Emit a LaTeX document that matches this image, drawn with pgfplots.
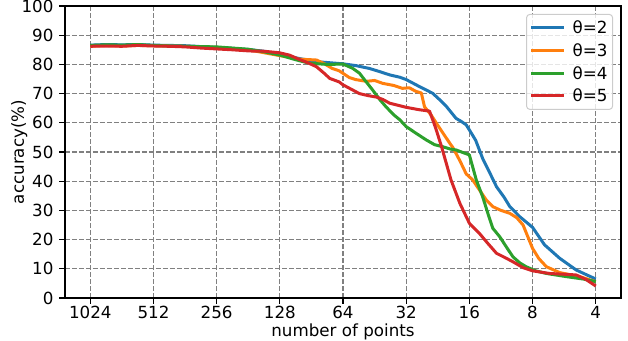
\documentclass[border=0pt]{standalone}
\usepackage{fontspec}
\setmainfont{DejaVu Sans}
\usepackage{pgfplots}
\pgfplotsset{compat=1.18}
\definecolor{tabblue}{HTML}{1F77B4}
\definecolor{taborange}{HTML}{FF7F0E}
\definecolor{tabgreen}{HTML}{2CA02C}
\definecolor{tabred}{HTML}{D62728}
\newcommand{\fs}{\fontsize{16.7bp}{19bp}\selectfont}
\begin{document}
\fs
\begin{tikzpicture}
\useasboundingbox (-65bp,-43bp) rectangle (563bp,298bp);
\begin{axis}[
  at={(0,0)}, anchor=south west,
  scale only axis, width=556bp, height=292bp,
  xmin=-0.4, xmax=8.4, ymin=0, ymax=100,
  xtick={0,1,2,3,4,5,6,7,8},
  xticklabels={1024,512,256,128,64,32,16,8,4},
  ytick={0,10,20,30,40,50,60,70,80,90,100},
  /pgf/number format/assume math mode=true,
  tick label style={font=\fs},
  label style={font=\fs},
  xticklabel style={inner sep=0pt, text height=12.2bp, text depth=0pt, yshift=-2.5bp},
  yticklabel style={inner sep=0pt, xshift=-5.5bp},
  xlabel={number of points}, ylabel={accuracy(\%)},
  xlabel style={inner sep=0pt, yshift=-4.5bp},
  ylabel style={inner sep=0pt, yshift=-6bp},
  xtick pos=lower, ytick pos=left,
  tick align=outside, major tick length=5.8bp,
  tick style={black, line width=1.3bp},
  axis line style={line width=1.3bp},
  grid=major,
  major grid style={dash pattern=on 4.9bp off 2.1bp, black!50, line width=1.2bp},
  every axis plot/.append style={line width=3bp, line join=round},
  legend cell align=left,
  legend image code/.code={\draw[#1, line width=3bp] (0bp,0bp) -- (33bp,0bp);},
  legend style={at={(rel axis cs:1,1)}, anchor=north east, xshift=-8bp, yshift=-8bp,
    draw=black!20, line width=1bp, rounded corners=3bp, fill=white, fill opacity=0.8, text opacity=1,
    font=\fs, inner xsep=3bp, inner ysep=5bp,
    nodes={inner sep=2bp, text height=12.2bp, text depth=0.5bp},
    /tikz/every odd column/.append style={column sep=5bp},
    row sep=6bp},
]
\addplot[tabblue] coordinates {(0,86.6)(0.25,86.8)(0.5,86.7)(0.75,86.8)(1,86.6)(1.25,86.5)(1.5,86.4)(1.75,86.1)(2,85.8)(2.25,85.5)(2.5,85.1)(2.75,84.5)(3,83.4)(3.31,82.0)(3.6,80.9)(4,80.2)(4.2,79.6)(4.42,78.6)(4.6,77.4)(4.74,76.4)(4.9,75.6)(5,74.8)(5.21,72.4)(5.42,70.1)(5.55,67.5)(5.64,65.5)(5.79,61.5)(5.87,60.5)(5.95,59.3)(6.03,56.5)(6.1,54)(6.21,47.8)(6.32,43)(6.43,38.1)(6.55,34.5)(6.64,31.3)(6.80,27.8)(7,24.2)(7.19,18.2)(7.43,13.6)(7.69,9.6)(8,6.5)};
\addlegendentry{θ=2}
\addplot[taborange] coordinates {(0,86.2)(0.25,86.5)(0.5,86.3)(0.75,86.5)(1,86.4)(1.25,86.3)(1.5,86.2)(1.75,86.0)(2,85.8)(2.5,85.0)(3,83.0)(3.31,81.8)(3.58,81.5)(3.7,80.3)(3.83,78.6)(3.94,77.8)(4.10,75.5)(4.2,74.8)(4.37,74.2)(4.5,74.5)(4.63,73.5)(4.8,72.8)(4.94,71.8)(5.05,72.0)(5.15,70.8)(5.24,70.2)(5.29,65.5)(5.4,62.5)(5.48,59.8)(5.69,53)(5.74,51.5)(5.85,47)(5.95,42.5)(6.05,40.5)(6.16,37)(6.27,33.5)(6.37,31.3)(6.5,30)(6.64,29)(6.75,27.5)(6.85,25)(7,17)(7.1,13.5)(7.22,10.7)(7.43,8.7)(7.75,7.3)(8,5.6)};
\addlegendentry{θ=3}
\addplot[tabgreen] coordinates {(0,86.5)(0.25,86.7)(0.5,86.6)(0.75,86.8)(1,86.5)(1.25,86.3)(1.5,86.2)(1.75,86.1)(2,86.0)(2.25,85.6)(2.5,85.2)(2.75,84.3)(3,83.2)(3.25,81.6)(3.47,80.4)(3.75,80.0)(4,80.1)(4.15,78.7)(4.26,77.0)(4.35,74.5)(4.47,71.2)(4.58,68)(4.68,65.5)(4.80,62.8)(4.90,61)(5,58.7)(5.15,56.5)(5.32,54.1)(5.45,52.5)(5.58,51.8)(5.70,51.0)(5.79,50.7)(5.9,49.8)(6,49)(6.11,40.4)(6.21,34.7)(6.3,28.5)(6.37,23.9)(6.48,21)(6.6,17)(6.69,14.1)(6.8,12)(6.90,10.7)(7.05,9.3)(7.22,8.4)(7.54,7.3)(7.8,6.5)(8,5.6)};
\addlegendentry{θ=4}
\addplot[tabred] coordinates {(0,86.2)(0.25,86.3)(0.5,86.2)(0.75,86.5)(1,86.3)(1.25,86.2)(1.5,86.0)(1.75,85.6)(2,85.3)(2.25,85.0)(2.52,84.6)(2.75,84.5)(2.99,84.0)(3.15,83.2)(3.31,81.7)(3.45,80.5)(3.58,79.2)(3.7,77.0)(3.79,75.2)(3.94,74.0)(4.0,73.0)(4.13,71.5)(4.26,70.0)(4.4,69.3)(4.53,68.8)(4.63,68.0)(4.74,66.7)(4.87,66.0)(5,65.3)(5.2,64.5)(5.37,64.0)(5.47,58)(5.56,51.8)(5.71,40.4)(5.85,32.4)(6,25.6)(6.16,22.1)(6.3,18.5)(6.43,15.3)(6.55,14)(6.69,12.4)(6.85,10.4)(7,9.3)(7.27,8.4)(7.69,7.9)(7.85,6.3)(8,4.1)};
\addlegendentry{θ=5}
\end{axis}
\end{tikzpicture}
\end{document}
